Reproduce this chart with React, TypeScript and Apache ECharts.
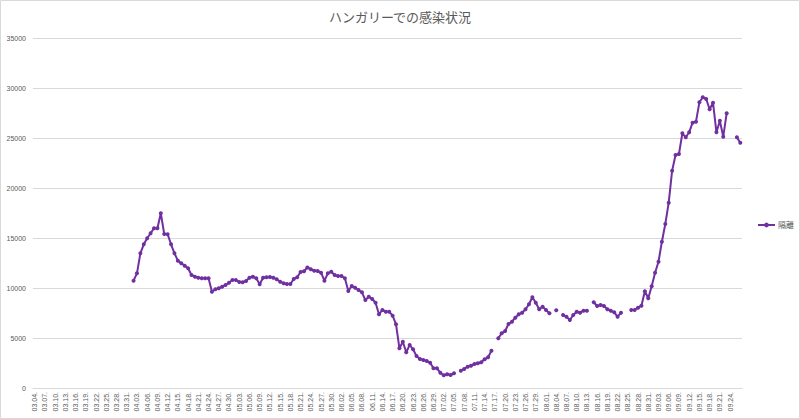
import React, { useEffect, useRef } from "react";
import * as echarts from "echarts";

const START_MONTH = 3;
const START_DAY = 4;
const DAY_COUNT = 208;

const monthLengths = [31, 28, 31, 30, 31, 30, 31, 31, 30, 31, 30, 31];

function buildCategories(): string[] {
  const out: string[] = [];
  let m = START_MONTH;
  let d = START_DAY;
  for (let i = 0; i < DAY_COUNT; i++) {
    out.push(String(m).padStart(2, "0") + "." + String(d).padStart(2, "0") + ".");
    d++;
    if (d > monthLengths[m - 1]) {
      d = 1;
      m++;
    }
  }
  return out;
}

const categories = buildCategories();

const LEADING_EMPTY = 29;

// values from 04.02 onward (null = missing day)
const quarantineValues: (number | null)[] = [
  10730, 11470, 13470, 14370, 14970, 15470, 15970, 15970, 17470, 15400,
  15370, 14370, 13470, 12730, 12470, 12230, 11970, 11300, 11130, 11030,
  10970, 10970, 10970, 9630, 9870, 9970, 10130, 10300, 10530, 10800,
  10800, 10600, 10570, 10700, 11030, 11130, 10970, 10370, 11030, 11070,
  11100, 11030, 10870, 10630, 10470, 10400, 10400, 10900, 11070, 11600,
  11680, 12050, 11880, 11720, 11700, 11530, 10730, 11470, 11630, 11300,
  11200, 11200, 10970, 9700, 10200, 10030, 9800, 9570, 8800, 9130,
  8900, 8530, 7370, 7800, 7630, 7630, 7230, 6370, 3970, 4630,
  3570, 4300, 3870, 3200, 2900, 2800, 2700, 2530, 1970, 1970,
  1530, 1270, 1370, 1300, 1470, null, 1730, 1900, 2130, 2230,
  2400, 2470, 2570, 2870, 3070, 3730, null, 4970, 5470, 5700,
  6400, 6630, 7030, 7370, 7530, 7870, 8370, 9070, 8530, 7870,
  8130, 7800, 7470, null, 7770, null, 7300, 7130, 6800, 7300,
  7630, 7530, 7730, 7730, null, 8570, 8200, 8300, 8200, 7870,
  7730, 7570, 7130, 7530, null, null, 7800, 7800, 8030, 8230,
  9680, 8970, 10170, 11530, 12630, 14630, 16400, 18530, 21730, 23300,
  23400, 25470, 25070, 25570, 26530, 26630, 28570, 29070, 28900, 27870,
  28530, 25570, 26730, 25130, 27470, null, null, 25070, 24530,
];

const seriesData: (number | null)[] = [];
for (let i = 0; i < DAY_COUNT; i++) {
  const j = i - LEADING_EMPTY;
  seriesData.push(j >= 0 && j < quarantineValues.length ? quarantineValues[j] : null);
}

const yTicks = [0, 5000, 10000, 15000, 20000, 25000, 30000, 35000];

const TITLE = "ハンガリーでの感染状況";
const SERIES_NAME = "隔離";

export default function App() {
  const ref = useRef<HTMLDivElement>(null);

  useEffect(() => {
    document.body.style.margin = "0";
    if (!ref.current) return;
    const chart = echarts.init(ref.current, undefined, { renderer: "svg" });
    const purple = "#7030A0";
    const gray = "#595959";
    chart.setOption({
      animation: false,
      backgroundColor: "#ffffff",
      title: {
        text: TITLE,
        left: "center",
        top: 5,
        textStyle: {
          fontFamily: "Noto Sans CJK JP",
          fontSize: 13,
          fontWeight: "normal",
          color: gray,
        },
      },
      legend: {
        data: [SERIES_NAME],
        orient: "vertical",
        left: 752,
        top: 216,
        itemWidth: 17,
        itemHeight: 6,
        itemGap: 4,
        textStyle: {
          fontFamily: "Noto Sans CJK JP",
          fontSize: 8,
          color: gray,
          padding: [0, 0, 0, -2],
        },
      },
      graphic: [
        {
          type: "rect",
          shape: { x: 0.5, y: 0.5, width: 799, height: 418 },
          style: { fill: "none", stroke: "#d9d9d9", lineWidth: 1 },
          silent: true,
        },
      ],
      grid: {
        left: 33,
        right: 58,
        top: 38,
        bottom: 31,
        containLabel: false,
      },
      xAxis: {
        type: "category",
        data: categories,
        boundaryGap: true,
        axisLine: { show: true, lineStyle: { color: "#d9d9d9", width: 1 } },
        axisTick: { show: false },
        axisLabel: {
          rotate: 90,
          interval: (index: number) => index % 3 === 0 && index < 207,
          fontFamily: "Liberation Sans",
          fontSize: 7,
          color: gray,
          margin: 4,
        },
        splitLine: { show: false },
      },
      yAxis: {
        type: "value",
        min: yTicks[0],
        max: yTicks[yTicks.length - 1],
        interval: 5000,
        axisLine: { show: false },
        axisTick: { show: false },
        axisLabel: {
          formatter: (v: number) => String(v),
          fontFamily: "Liberation Sans",
          fontSize: 7,
          color: gray,
          margin: 7,
        },
        splitLine: { show: true, lineStyle: { color: "#d9d9d9", width: 1 } },
      },
      series: [
        {
          name: SERIES_NAME,
          type: "line",
          data: seriesData,
          connectNulls: false,
          symbol: "circle",
          symbolSize: 4,
          showSymbol: true,
          showAllSymbol: true,
          lineStyle: { color: purple, width: 2 },
          itemStyle: { color: purple },
        },
      ],
    });
    return () => chart.dispose();
  }, []);

  return <div ref={ref} style={{ width: 800, height: 419 }} />;
}
